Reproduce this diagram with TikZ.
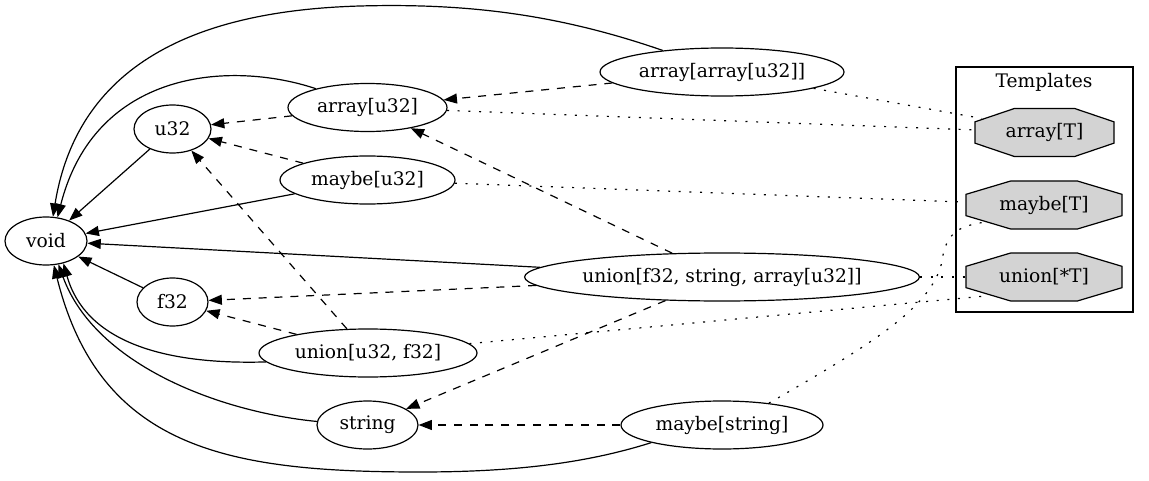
\documentclass[tikz,border=0pt]{standalone}
\usepackage{fontspec}
\setmainfont{DejaVu Serif}
\usetikzlibrary{shapes.geometric,arrows.meta}
\definecolor{tmplgray}{RGB}{211,211,211}
\tikzset{
	typ/.style={draw, ellipse, inner sep=0pt, minimum height=36pt, minimum width=#1},
	% octagon: #1 width, #2 horizontal cut
	tmpl/.style 2 args={rectangle, inner sep=0pt, minimum width=#1, minimum height=37pt,
		path picture={\draw[fill=tmplgray]
			([shift={(#2,-0.5pt)}]path picture bounding box.north west) -- ([shift={(-#2,-0.5pt)}]path picture bounding box.north east)
			-- ([shift={(-0.5pt,-10.5pt)}]path picture bounding box.north east) -- ([shift={(-0.5pt,10.5pt)}]path picture bounding box.south east)
			-- ([shift={(-#2,0.5pt)}]path picture bounding box.south east) -- ([shift={(#2,0.5pt)}]path picture bounding box.south west)
			-- ([shift={(0.5pt,10.5pt)}]path picture bounding box.south west) -- ([shift={(0.5pt,-10.5pt)}]path picture bounding box.north west) -- cycle;}},
	isa/.style={-{Triangle[length=10pt,width=7.5pt]}},
	sub/.style={-{Triangle[length=10pt,width=7.5pt]}, dash pattern=on 6pt off 5.9pt},
	inst/.style={dash pattern=on 1.5pt off 6.5pt},
}
\begin{document}
\begin{tikzpicture}[x=0.75pt, y=-0.75pt, font=\fontsize{14pt}{16pt}\selectfont, line width=0.9pt]
	\useasboundingbox (0,0) rectangle (1149,481);
	% concrete types
	\node[typ=61.5pt] (void) at (46,241) {void};
	\node[typ=57.75pt] (u32) at (172.5,129) {u32};
	\node[typ=53.25pt] (f32) at (172.5,302) {f32};
	\node[typ=119.25pt] (arru32) at (367.5,107.5) {array[u32]};
	\node[typ=131.25pt] (maybeu32) at (367.5,180) {maybe[u32]};
	\node[typ=163.5pt] (unionuf) at (368,353) {union[u32, f32]};
	\node[typ=75.75pt] (string) at (367.5,425) {string};
	\node[typ=183pt] (arrarr) at (722,72) {array[array[u32]]};
	\node[typ=295.5pt] (unionfsa) at (722,277) {union[f32, string, array[u32]]};
	\node[typ=151.5pt] (maybestr) at (722,425) {maybe[string]};
	% templates
	\node[draw, minimum width=132.75pt, minimum height=183.75pt] (tmplbox) at (1044.5,189.5) {};
	\node (tmpltitle) at (1044,82) {Templates};
	\node[tmpl={105.25pt}{30pt}] (arrT) at (1044.5,132.5) {array[T]};
	\node[tmpl={118pt}{34pt}] (maybeT) at (1044,205) {maybe[T]};
	\node[tmpl={118pt}{34pt}] (unionT) at (1044,277) {union[*T]};

	% everything falls back to void
	\draw[isa] (arrarr.160) .. controls (560,15) and (470,3) .. (360,6) .. controls (220,10) and (80,50) .. (void.74);
	\draw[isa] (arru32.160) .. controls (230,60) and (95,70) .. (void.64);
	\draw[isa] (u32) -- (void);
	\draw[isa] (maybeu32) -- (void);
	\draw[isa] (unionfsa) -- (void);
	\draw[isa] (f32) -- (void);
	\draw[isa] (unionuf.185) .. controls (160,365) and (85,340) .. (void.-52);
	\draw[isa] (string.176) .. controls (220,412) and (95,365) .. (void.-62);
	\draw[isa] (maybestr.194) .. controls (590,462) and (520,472) .. (420,472) .. controls (230,472) and (100,450) .. (void.-72);

	% subtype edges
	\draw[sub] (arrarr) -- (arru32);
	\draw[sub] (arru32) -- (u32);
	\draw[sub] (maybeu32) -- (u32);
	\draw[sub] (unionuf) -- (u32);
	\draw[sub] (unionfsa) -- (arru32);
	\draw[sub] (unionfsa) -- (f32);
	\draw[sub] (unionuf) -- (f32);
	\draw[sub] (unionfsa) -- (string);
	\draw[sub] (maybestr) -- (string);

	% instances of templates
	\draw[inst] (arrarr) -- ([shift={(6pt,-8.4pt)}]arrT.north west);
	\draw[inst] (arru32) -- (arrT);
	\draw[inst] (maybeu32) -- (maybeT);
	\draw[inst] (unionfsa) -- (unionT);
	\draw[inst] (unionuf) -- ([shift={(18pt,4.9pt)}]unionT.south west);
	\draw[inst] (maybestr.25) .. controls (870,345) and (938,305) .. (943,255) .. controls (948,232) and (960,226) .. ([shift={(14.25pt,6pt)}]maybeT.south west);
\end{tikzpicture}
\end{document}
